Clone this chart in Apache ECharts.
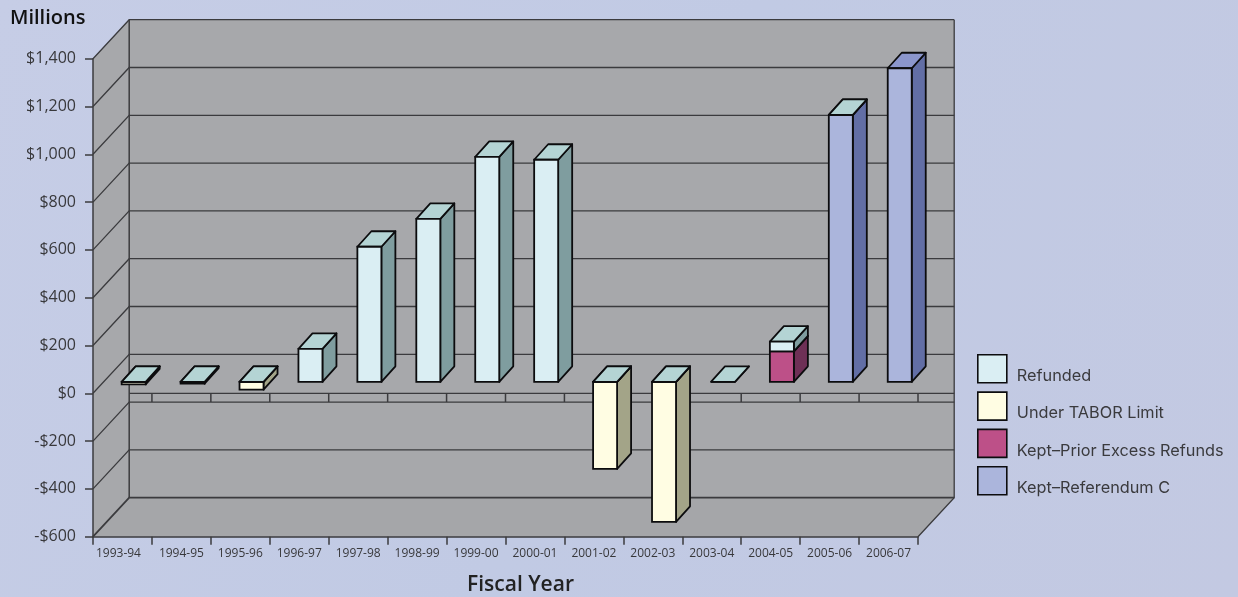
<!DOCTYPE html>
<html>
<head>
<meta charset="utf-8">
<script src="https://cdn.jsdelivr.net/npm/echarts@6/dist/echarts.min.js"></script>
<style>html,body{margin:0;padding:0;background:#c1c9e3}#c{width:1238px;height:597px}</style>
</head>
<body>
<div id="c"></div>
<script>
const categories = ['1993-94','1994-95','1995-96','1996-97','1997-98','1998-99','1999-00','2000-01','2001-02','2002-03','2003-04','2004-05','2005-06','2006-07'];
const keptPrior  = [null,null,null,null,null,null,null,null,null,null,null,127,null,null];
const keptRefC   = [null,null,null,null,null,null,null,null,null,null,null,null,1117,1312];
const underLimit = [-11,-8,-33,null,null,null,null,null,-364,-586,null,null,null,null];
const refunded   = [0,0,0,138,565,682,941,929,0,0,0,41,0,null];
const yTicks = [-600,-400,-200,0,200,400,600,800,1000,1200,1400];

const WALL_DX = 36.2, WALL_DY = -39;
const BAR_DX = 11.2, BAR_DY = -11.5, BAR_W = 24, DEPTH_DX = 14, DEPTH_DY = -15.5;
const INK = '#3b3b3e', WALL = '#a7a8ab', FLOOR = '#a5a6a9';
const SANS = '"Open Sans","Noto Sans",sans-serif';
const LEGEND_FONT = 'Inter,"Open Sans",sans-serif';

const styles = {
  'Refunded': {front:'#daeef3', side:'#7f9d9f', top:'#b4d4d4'},
  'Under TABOR Limit': {front:'#fffde3', side:'#a3a488', top:'#b4d4d4'},
  'Kept\u2013Prior Excess Refunds': {front:'#bd5088', side:'#6e3056', top:'#b4d4d4'},
  'Kept\u2013Referendum C': {front:'#abb5dc', side:'#626ea5', top:'#8b96cc'}
};

function poly(points, fill, stroke, lw) {
  return {type:'polygon', shape:{points}, style:{fill, stroke, lineWidth:lw, lineJoin:'round'}};
}
function line(points, lw, color) {
  return {type:'polyline', shape:{points}, style:{fill:'none', stroke:color||INK, lineWidth:lw}};
}

function boxRender(name) {
  const c = styles[name];
  return function (params, api) {
    const i = api.value(0), a = api.coord([i, api.value(1)]), b = api.coord([i, api.value(2)]);
    const l = a[0] + BAR_DX - BAR_W / 2, r = l + BAR_W;
    const y0 = a[1] + BAR_DY, y1 = b[1] + BAR_DY;
    const top = Math.min(y0, y1), bot = Math.max(y0, y1);
    const S = '#0c0c0e', W = 1.8;
    return {type:'group', children:[
      poly([[r,top],[r+DEPTH_DX,top+DEPTH_DY],[r+DEPTH_DX,bot+DEPTH_DY],[r,bot]], c.side, S, W),
      poly([[l,top],[l+DEPTH_DX,top+DEPTH_DY],[r+DEPTH_DX,top+DEPTH_DY],[r,top]], c.top, S, W),
      {type:'rect', shape:{x:l, y:top, width:BAR_W, height:bot-top}, style:{fill:c.front, stroke:S, lineWidth:W}}
    ]};
  };
}

const posBase = categories.map((_, i) => (keptPrior[i] || 0) + (keptRefC[i] || 0));
function rows(values, base) {
  const out = [];
  values.forEach((v, i) => { if (v !== null) out.push([i, base ? base[i] : 0, (base ? base[i] : 0) + v]); });
  return out;
}
function boxSeries(name, data) {
  return {type:'custom', name, z:4, data, renderItem:boxRender(name), encode:{x:0, y:[1,2]}, silent:true,
          itemStyle:{color:styles[name].front}};
}

const legendNames = Object.keys(styles);
const option = {
  animation:false,
  backgroundColor:{type:'linear', x:0, y:0, x2:1, y2:1, colorStops:[
    {offset:0, color:'#c6cde6'},{offset:.5, color:'#c1cae4'},{offset:1, color:'#c3c9e2'}]},
  title:[
    {text:'Millions', left:5, top:3, textStyle:{fontFamily:SANS, fontSize:20, fontWeight:600, color:'#111'}},
    {text:'Fiscal Year', left:462, top:570, textStyle:{fontFamily:SANS, fontSize:21, fontWeight:600, color:'#222'}}
  ],
  grid:{left:93, top:58.7, width:825, height:478},
  xAxis:{type:'category', z:6, data:categories.map((c, i) => i === 0 ? {value:c, textStyle:{padding:[0,8,0,0]}} : c),
    axisLine:{show:true, onZero:false, lineStyle:{color:INK, width:1.5}},
    axisTick:{show:true, length:8, lineStyle:{color:INK, width:1.5}},
    axisLabel:{interval:0, margin:11, fontFamily:SANS, fontSize:12, color:'#38383b'}},
  yAxis:{type:'value', z:5, min:-600, max:1400, interval:200,
    splitLine:{show:false},
    axisLine:{show:true, lineStyle:{color:INK, width:1.5}},
    axisTick:{show:true, length:8, lineStyle:{color:INK, width:1.5}},
    axisLabel:{margin:17, fontFamily:SANS, fontSize:16, color:'#38383b', padding:[0,0,3,0],
      formatter:v => (v < 0 ? '-$' : '$') + Math.abs(v).toLocaleString('en-US')}},
  legend:{orient:'vertical', left:977, top:354, padding:0, itemWidth:29, itemGap:7, itemHeight:28, selectedMode:false,
    formatter:n => '{a|' + n + '}',
    data:legendNames.map(name => ({name, icon:'rect',
      itemStyle:{color:styles[name].front, borderColor:'#0c0c0e', borderWidth:1.6}})),
    textStyle:{rich:{a:{fontFamily:LEGEND_FONT, fontSize:16.3, color:'#3a3a3d', padding:[15,0,0,5]}}}},
  series:[
    {type:'custom', z:1, silent:true, data:[[0, yTicks[0], yTicks[yTicks.length-1]]], encode:{x:0, y:[1,2]},
     renderItem:(p, api) => {
       const band = api.size([1,0])[0];
       const lo = api.coord([0, api.value(1)]), hi = api.coord([0, api.value(2)]);
       const xL = lo[0] - band/2, xR = api.coord([categories.length-1, 0])[0] + band/2;
       const d = WALL_DX, e = WALL_DY;
       return {type:'group', children:[
         poly([[xL+d,hi[1]+e],[xR+d,hi[1]+e],[xR+d,lo[1]+e],[xL+d,lo[1]+e]], WALL),
         poly([[xL,hi[1]],[xL+d,hi[1]+e],[xL+d,lo[1]+e],[xL,lo[1]]], WALL),
         poly([[xL,lo[1]],[xR,lo[1]],[xR+d,lo[1]+e],[xL+d,lo[1]+e]], FLOOR),
         line([[xL+d,hi[1]+e],[xL+d,lo[1]+e]], 1.5),
         line([[xR+d,hi[1]+e],[xR+d,lo[1]+e],[xR,lo[1]]], 1.3)
       ]};
     }},
    {type:'custom', z:2, silent:true, data:yTicks.map(v => [0, v]), encode:{x:0, y:1},
     renderItem:(p, api) => {
       const band = api.size([1,0])[0], v = api.value(1), c = api.coord([0, v]);
       const xL = c[0] - band/2, xR = api.coord([categories.length-1, v])[0] + band/2;
       return line([[xL,c[1]],[xL+WALL_DX,c[1]+WALL_DY],[xR+WALL_DX,c[1]+WALL_DY]], v === -600 ? 1.8 : 1.3);
     }},
    {type:'custom', z:2, silent:true, data:categories.map((_, i) => [i, 0]), encode:{x:0, y:1},
     renderItem:(p, api) => {
       const band = api.size([1,0])[0], i = api.value(0), c = api.coord([i, 0]);
       const x = c[0] + band/2, kids = [line([[x,c[1]],[x,c[1]+8.7]], 1.5)];
       if (i === 0) kids.push(line([[c[0]-band/2+WALL_DX,c[1]],[api.coord([categories.length-1,0])[0]+band/2+WALL_DX,c[1]]], 1.3));
       return {type:'group', children:kids};
     }},
    boxSeries(legendNames[2], rows(keptPrior)),
    boxSeries(legendNames[3], rows(keptRefC)),
    boxSeries(legendNames[1], rows(underLimit)),
    boxSeries(legendNames[0], rows(refunded, posBase))
  ]
};
echarts.init(document.getElementById('c'), null, {renderer:'canvas'}).setOption(option);
</script>
</body>
</html>
